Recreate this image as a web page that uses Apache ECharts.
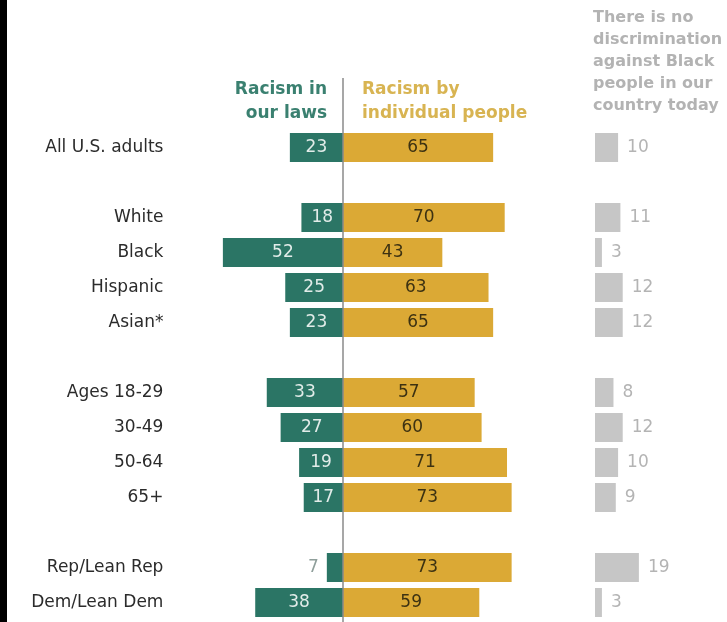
<!DOCTYPE html>
<html>
<head>
<meta charset="utf-8">
<script src="https://cdn.jsdelivr.net/npm/echarts@6/dist/echarts.min.js"></script>
<style>
  html, body {
    margin: 0;
    padding: 0;
    background: #000;
  }

  #chart {
    position: absolute;
    left: 7px;
    top: 0;
    width: 720px;
    height: 622px;
    background: #fff;
  }
</style>
</head>
<body>
<div id="chart"></div>
<script>
// rows, blank strings are the spacer rows between groups
const categories = [
  'All U.S. adults', ' ',
  'White', 'Black', 'Hispanic', 'Asian*', '  ',
  'Ages 18-29', '30-49', '50-64', '65+', '   ',
  'Rep/Lean Rep', 'Dem/Lean Dem',
];
const lawsValues = [23, null, 18, 52, 25, 23, null, 33, 27, 19, 17, null, 7, 38];
const peopleValues = [65, null, 70, 43, 63, 65, null, 57, 60, 71, 73, null, 73, 59];
const noDiscValues = [10, null, 11, 3, 12, 12, null, 8, 12, 10, 9, null, 19, 3];

const GREEN = '#2b7565';
const GOLD = '#dba935';
const GRAY = '#c6c6c6';
const FONT = 'DejaVu Sans';

const chartDom = document.getElementById('chart');
const chart = echarts.init(chartDom);

// green bars go left, small ones get the label outside
const lawsData = lawsValues.map((v) => {
  if (v == null) return '-';
  if (v < 10) {
    return {
      value: -v,
      label: { position: 'left', distance: 8, color: '#8f9f9b' },
    };
  }
  return -v;
});

const option = {
  animation: false,
  textStyle: { fontFamily: FONT },
  grid: [
    { left: 197.4, width: 323.4, top: 130, height: 490 },
    { left: 588, width: 92.4, top: 130, height: 490 },
  ],
  xAxis: [
    { gridIndex: 0, type: 'value', min: -60, max: 80, show: false },
    { gridIndex: 1, type: 'value', min: 0, max: 40, show: false },
  ],
  yAxis: [
    {
      gridIndex: 0,
      type: 'category',
      data: categories,
      inverse: true,
      axisLine: { show: false },
      axisTick: { show: false },
      axisLabel: {
        margin: 41,
        fontSize: 17,
        color: '#2b2b2b',
        fontFamily: FONT,
      },
    },
    {
      gridIndex: 1,
      type: 'category',
      data: categories,
      inverse: true,
      show: false,
    },
  ],
  series: [
    {
      name: 'Racism in our laws',
      type: 'bar',
      stack: 'main',
      xAxisIndex: 0,
      yAxisIndex: 0,
      barWidth: 29,
      data: lawsData,
      itemStyle: { color: GREEN },
      label: {
        show: true,
        position: 'inside',
        fontSize: 17,
        color: '#e2ece9',
        fontFamily: FONT,
        formatter: (p) => Math.abs(p.value),
      },
    },
    {
      name: 'Racism by individual people',
      type: 'bar',
      stack: 'main',
      xAxisIndex: 0,
      yAxisIndex: 0,
      barWidth: 29,
      data: peopleValues.map((v) => (v == null ? '-' : v)),
      itemStyle: { color: GOLD },
      label: {
        show: true,
        position: 'inside',
        fontSize: 17,
        color: '#3d3212',
        fontFamily: FONT,
      },
    },
    {
      name: 'There is no discrimination',
      type: 'bar',
      xAxisIndex: 1,
      yAxisIndex: 1,
      barWidth: 29,
      data: noDiscValues.map((v) => (v == null ? '-' : v)),
      itemStyle: { color: GRAY },
      label: {
        show: true,
        position: 'right',
        distance: 9,
        fontSize: 17,
        color: '#b4b4b4',
        fontFamily: FONT,
      },
    },
  ],
};

chart.setOption(option);

// divider at zero, runs up into the header
const zeroX = chart.convertToPixel({ xAxisIndex: 0 }, 0);
chart.setOption({
  graphic: [
    {
      type: 'line',
      shape: { x1: zeroX, y1: 78, x2: zeroX, y2: 622 },
      style: { stroke: '#8a8a8a', lineWidth: 1.5 },
      z: 10,
    },
    {
      type: 'text',
      x: zeroX - 16,
      y: 78,
      style: {
        text: 'Racism in\nour laws',
        align: 'right',
        font: 'bold 17px "DejaVu Sans"',
        lineHeight: 24,
        fill: '#3a8070',
      },
    },
    {
      type: 'text',
      x: zeroX + 19,
      y: 78,
      style: {
        text: 'Racism by\nindividual people',
        align: 'left',
        font: 'bold 17px "DejaVu Sans"',
        lineHeight: 24,
        fill: '#d8b452',
      },
    },
    {
      type: 'text',
      x: 586,
      y: 7,
      style: {
        text: 'There is no\ndiscrimination\nagainst Black\npeople in our\ncountry today',
        align: 'left',
        font: 'bold 16px "DejaVu Sans"',
        lineHeight: 22,
        fill: '#b3b3b3',
      },
    },
  ],
});
</script>
</body>
</html>
